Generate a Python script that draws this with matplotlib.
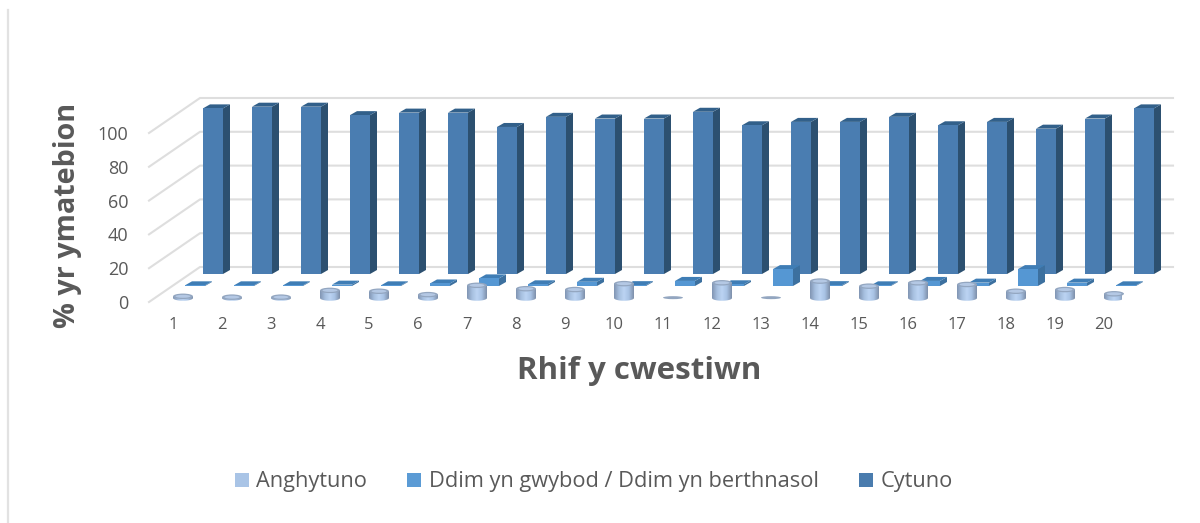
import numpy as np
import matplotlib
matplotlib.use("Agg")
import matplotlib.pyplot as plt
from matplotlib.colors import LinearSegmentedColormap
from matplotlib.lines import Line2D
from matplotlib.patches import Ellipse, PathPatch, Patch, Polygon
from matplotlib.path import Path
from matplotlib.transforms import Affine2D

categories = [str(i) for i in range(1, 21)]
y_ticks = [0, 20, 40, 60, 80, 100]
anghytuno = [1, 0.5, 0.5, 4.5, 4, 2, 7.5, 5.5, 5, 8.5, 0.2, 9, 0.2, 10, 7, 9, 8, 4, 5, 2.5]
ddim = [0.4, 0.4, 0.4, 0.8, 0.4, 1.5, 4.5, 1, 2.5, 0.5, 3, 1, 10, 0.5, 0.4, 3, 2, 10, 2, 0.4]
cytuno = [98, 99, 99, 94, 95.5, 95.5, 87, 93, 92, 92, 96, 88, 90, 90, 93, 88, 90, 86, 92, 98]
legend_labels = ["Anghytuno", "Ddim yn gwybod / Ddim yn berthnasol", "Cytuno"]

W, H = 1200, 523
TXT = "#595959"
plt.rcParams["font.family"] = ["Open Sans", "DejaVu Sans"]
fig = plt.figure(figsize=(W / 100, H / 100), dpi=100, facecolor="white")

# front plane of the oblique box, in pixels
L, R, BOT, TOP = 149, 1122, 302, 133
ax = fig.add_axes([L / W, 1 - BOT / H, (R - L) / W, (BOT - TOP) / H])
PX = 49.0
x0 = 1 - 28 / PX
ax.set_xlim(x0, x0 + (R - L) / PX)
ax.set_ylim(0, 100)
UY = (BOT - TOP) / 100
for s in ax.spines.values():
    s.set_visible(False)
ax.patch.set_alpha(0)


def sx(px):
    return px / PX


def sy(px):
    return px / UY


# walls
GRID = "#dedede"
for v in y_ticks:
    ax.add_line(Line2D([x0, x0 + sx(51), x0 + sx(51 + R - L)],
                       [v, v + sy(35), v + sy(35)],
                       color=GRID, lw=1.5, clip_on=False, zorder=1))


def box_series(values, dx, dy, front, side, top, z):
    xs = np.arange(1, len(values) + 1) + sx(dx)
    w = 20 / PX
    b = sy(dy)
    ddx, ddy = sx(7), sy(4)
    ax.bar(xs, values, w, bottom=b, color=front, clip_on=False, zorder=z + 1, linewidth=0)
    for x, v in zip(xs, values):
        xr = x + w / 2
        xl = x - w / 2
        ax.add_patch(Polygon([(xr, b), (xr + ddx, b + ddy), (xr + ddx, b + v + ddy), (xr, b + v)],
                             fc=side, ec="none", clip_on=False, zorder=z))
        ax.add_patch(Polygon([(xl, b + v), (xl + ddx, b + v + ddy), (xr + ddx, b + v + ddy), (xr, b + v)],
                             fc=top, ec="none", clip_on=False, zorder=z))


cmap = LinearSegmentedColormap.from_list("cyl", ["#8195b3", "#a6bfdf", "#bcd4f3", "#a8c2e4", "#7e90aa"])
grad = np.linspace(0, 1, 64).reshape(1, -1)


def cylinder_series(values, dx, dy, z):
    xs = np.arange(1, len(values) + 1) + sx(dx)
    w = 20 / PX
    b = sy(dy)
    for x, v in zip(xs, values):
        flat = v < 0.3
        eh = sy(3 if flat else 5.5)
        if not flat:
            im = ax.imshow(grad, cmap=cmap, extent=(x - w / 2, x + w / 2, b - eh / 2, b + v + eh / 2),
                           aspect="auto", zorder=z, interpolation="bilinear")
            verts = [(x - w / 2, b + v), (x - w / 2, b)]
            codes = [Path.MOVETO, Path.LINETO]
            t = np.linspace(np.pi, 2 * np.pi, 24)
            verts += [(x + w / 2 * np.cos(a), b + eh / 2 * np.sin(a)) for a in t]
            codes += [Path.LINETO] * 24
            verts += [(x + w / 2, b + v), (x - w / 2, b + v)]
            codes += [Path.LINETO, Path.CLOSEPOLY]
            clip = PathPatch(Path(verts, codes), transform=ax.transData, fc="none", ec="none")
            ax.add_patch(clip)
            im.set_clip_path(clip)
        ax.add_patch(Ellipse((x, b + v), w, eh, fc="#93a6c0", ec="none",
                             clip_on=False, zorder=z + 1))
        if not flat:
            ax.add_patch(Ellipse((x, b + v), w * 0.75, eh * 0.55, fc="#b4c8e4", ec="none",
                                 clip_on=False, zorder=z + 2))


box_series(cytuno, 36, 28, "#4a7db1", "#2c5070", "#32608a", 3)
box_series(ddim, 18, 16, "#5597d3", "#3c709f", "#3f7db5", 6)
cylinder_series(anghytuno, 6, 4, 9)
ax.set_xlim(x0, x0 + (R - L) / PX)
ax.set_ylim(0, 100)
ax.set_aspect("auto")

ax.set_xticks(range(1, len(categories) + 1), categories)
ax.set_yticks(y_ticks)
ax.tick_params(axis="x", length=0, pad=11, labelsize=12, labelcolor=TXT)
ax.tick_params(axis="y", length=0, pad=15, labelsize=13, labelcolor=TXT)
off = Affine2D().translate(-4, 0)
for lab in ax.get_xticklabels():
    lab.set_transform(lab.get_transform() + off)

ax.set_xlabel("Rhif y cwestiwn", fontsize=22.5, fontweight="bold", color=TXT, va="center")
ax.xaxis.set_label_coords(639 / W, 1 - 371 / H, transform=fig.transFigure)
ax.set_ylabel("% yr ymatebion", fontsize=20.7, fontweight="bold", color=TXT, va="center")
ax.yaxis.set_label_coords(68 / W, 1 - 215 / H, transform=fig.transFigure)

handles = [Patch(fc="#a9c4e6"), Patch(fc="#5b9bd5"), Patch(fc="#4a7cae")]
fig.legend(handles, legend_labels, ncol=3, loc="center", bbox_to_anchor=(593.5 / W, 1 - 482 / H),
           frameon=False, fontsize=15.7, labelcolor=TXT, handlelength=0.65, handleheight=0.65,
           handletextpad=0.33, columnspacing=1.85, borderpad=0, borderaxespad=0)

# outer frame line at the left edge of the picture
fig.add_artist(Line2D([8 / W, 8 / W], [0, 1 - 10 / H], color="#e2e2e2", lw=1.6,
                      transform=fig.transFigure))

fig.savefig("out.png", dpi=100, facecolor="white")
